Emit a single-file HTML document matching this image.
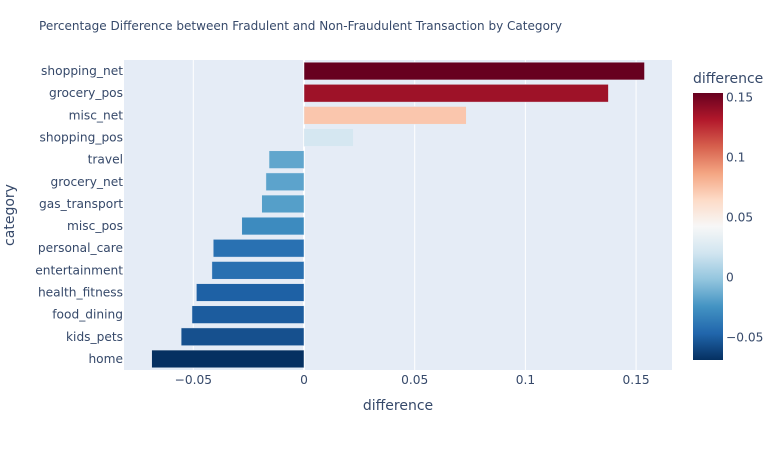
<!DOCTYPE html>
<html>
<head>
<meta charset="utf-8">
<style>
html,body{margin:0;padding:0;background:#fff;width:784px;height:450px;overflow:hidden}
svg{display:block}
text{font-family:"DejaVu Sans","Liberation Sans",sans-serif;fill:#36496a}
</style>
</head>
<body>
<svg id="chart" xmlns="http://www.w3.org/2000/svg" width="784" height="450" viewBox="0 0 784 450">
<text x="39" y="30" font-size="12" textLength="523" lengthAdjust="spacingAndGlyphs">Percentage Difference between Fradulent and Non-Fraudulent Transaction by Category</text>
<rect x="124" y="60" width="548" height="310" fill="#E5ECF6"/>
<g id="grid"></g>
<g id="bars"></g>
<g id="xticks"></g>
<g id="yticks"></g>
<text x="398" y="410" font-size="14" text-anchor="middle">difference</text>
<text transform="translate(14,215) rotate(-90)" font-size="14" text-anchor="middle">category</text>
<text x="693" y="83" font-size="14">difference</text>
<defs><linearGradient id="cbgrad" x1="0" y1="1" x2="0" y2="0"></linearGradient></defs>
<rect x="693" y="93" width="30" height="267" fill="url(#cbgrad)"/>
<g id="cbticks"></g>
</svg>
<script>
const categories = ["shopping_net","grocery_pos","misc_net","shopping_pos","travel","grocery_net","gas_transport","misc_pos","personal_care","entertainment","health_fitness","food_dining","kids_pets","home"];
const differences = [0.1538,0.1375,0.0733,0.0223,-0.0158,-0.0172,-0.0191,-0.0281,-0.041,-0.0416,-0.0486,-0.0506,-0.0555,-0.0688];
const xTickValues = [-0.05,0,0.05,0.1,0.15];
const colorbarTickValues = [0.15,0.1,0.05,0,-0.05];
const colorscale = [[5,48,97],[33,102,172],[67,147,195],[146,197,222],[209,229,240],[247,247,247],[253,219,199],[244,165,130],[214,96,77],[178,24,43],[103,0,31]];

const NS = "http://www.w3.org/2000/svg";
function make(parent, tag, attrs, txt) {
  const el = document.createElementNS(NS, tag);
  for (const k in attrs) el.setAttribute(k, attrs[k]);
  if (txt !== undefined) el.textContent = txt;
  parent.appendChild(el);
  return el;
}
function xScale(v) { return 304 + v * 2214; }
function bandHeight() { return 310 / categories.length; }
function yScale(i) { return 60 + (i + 0.5) * bandHeight(); }
const cMin = Math.min(...differences);
const cMax = Math.max(...differences);
function cbScale(v) { return 360 - (v - cMin) / (cMax - cMin) * 267; }
function colorAt(v) {
  const t = Math.max(0, Math.min(1, (v - cMin) / (cMax - cMin))) * (colorscale.length - 1);
  const i = Math.min(Math.floor(t), colorscale.length - 2);
  const f = t - i;
  const c = colorscale[i].map((a, j) => Math.round(a + (colorscale[i + 1][j] - a) * f));
  return "rgb(" + c.join(",") + ")";
}
function fmt(v) { return v < 0 ? "\u2212" + (-v) : String(v); }

const grid = document.getElementById("grid");
const xticks = document.getElementById("xticks");
xTickValues.forEach(v => {
  const line = make(grid, "line", {x1: xScale(v), x2: xScale(v), y1: 60, y2: 370, stroke: "#fff", "stroke-width": v === 0 ? 2 : 1});
  
  
  const label = make(xticks, "text", {x: xScale(v), y: 384, "font-size": 12.2, "text-anchor": "middle"}, fmt(v));
  
  
});

const bars = document.getElementById("bars");
const yticks = document.getElementById("yticks");
categories.forEach((name, i) => {
  const v = differences[i];
  const h = bandHeight() * 0.8;
  const x0 = Math.min(xScale(0), xScale(v));
  const bar = make(bars, "rect", {x: x0, y: yScale(i) - h / 2, width: Math.abs(xScale(v) - xScale(0)), height: h, fill: colorAt(v), stroke: "#E5ECF6", "stroke-width": 0.5});
  
  
  const label = make(yticks, "text", {x: 123, y: yScale(i) + 4, "font-size": 12.2, "text-anchor": "end"}, name);
  
  
});

const grad = document.getElementById("cbgrad");
colorscale.forEach((c, i) => {
  make(grad, "stop", {offset: i / (colorscale.length - 1), "stop-color": "rgb(" + c.join(",") + ")"});
});
const cbticks = document.getElementById("cbticks");
colorbarTickValues.forEach(v => {
  const label = make(cbticks, "text", {x: 726, y: cbScale(v) + 4, "font-size": 12.2}, fmt(v));
  
  
});
</script>
</body>
</html>
